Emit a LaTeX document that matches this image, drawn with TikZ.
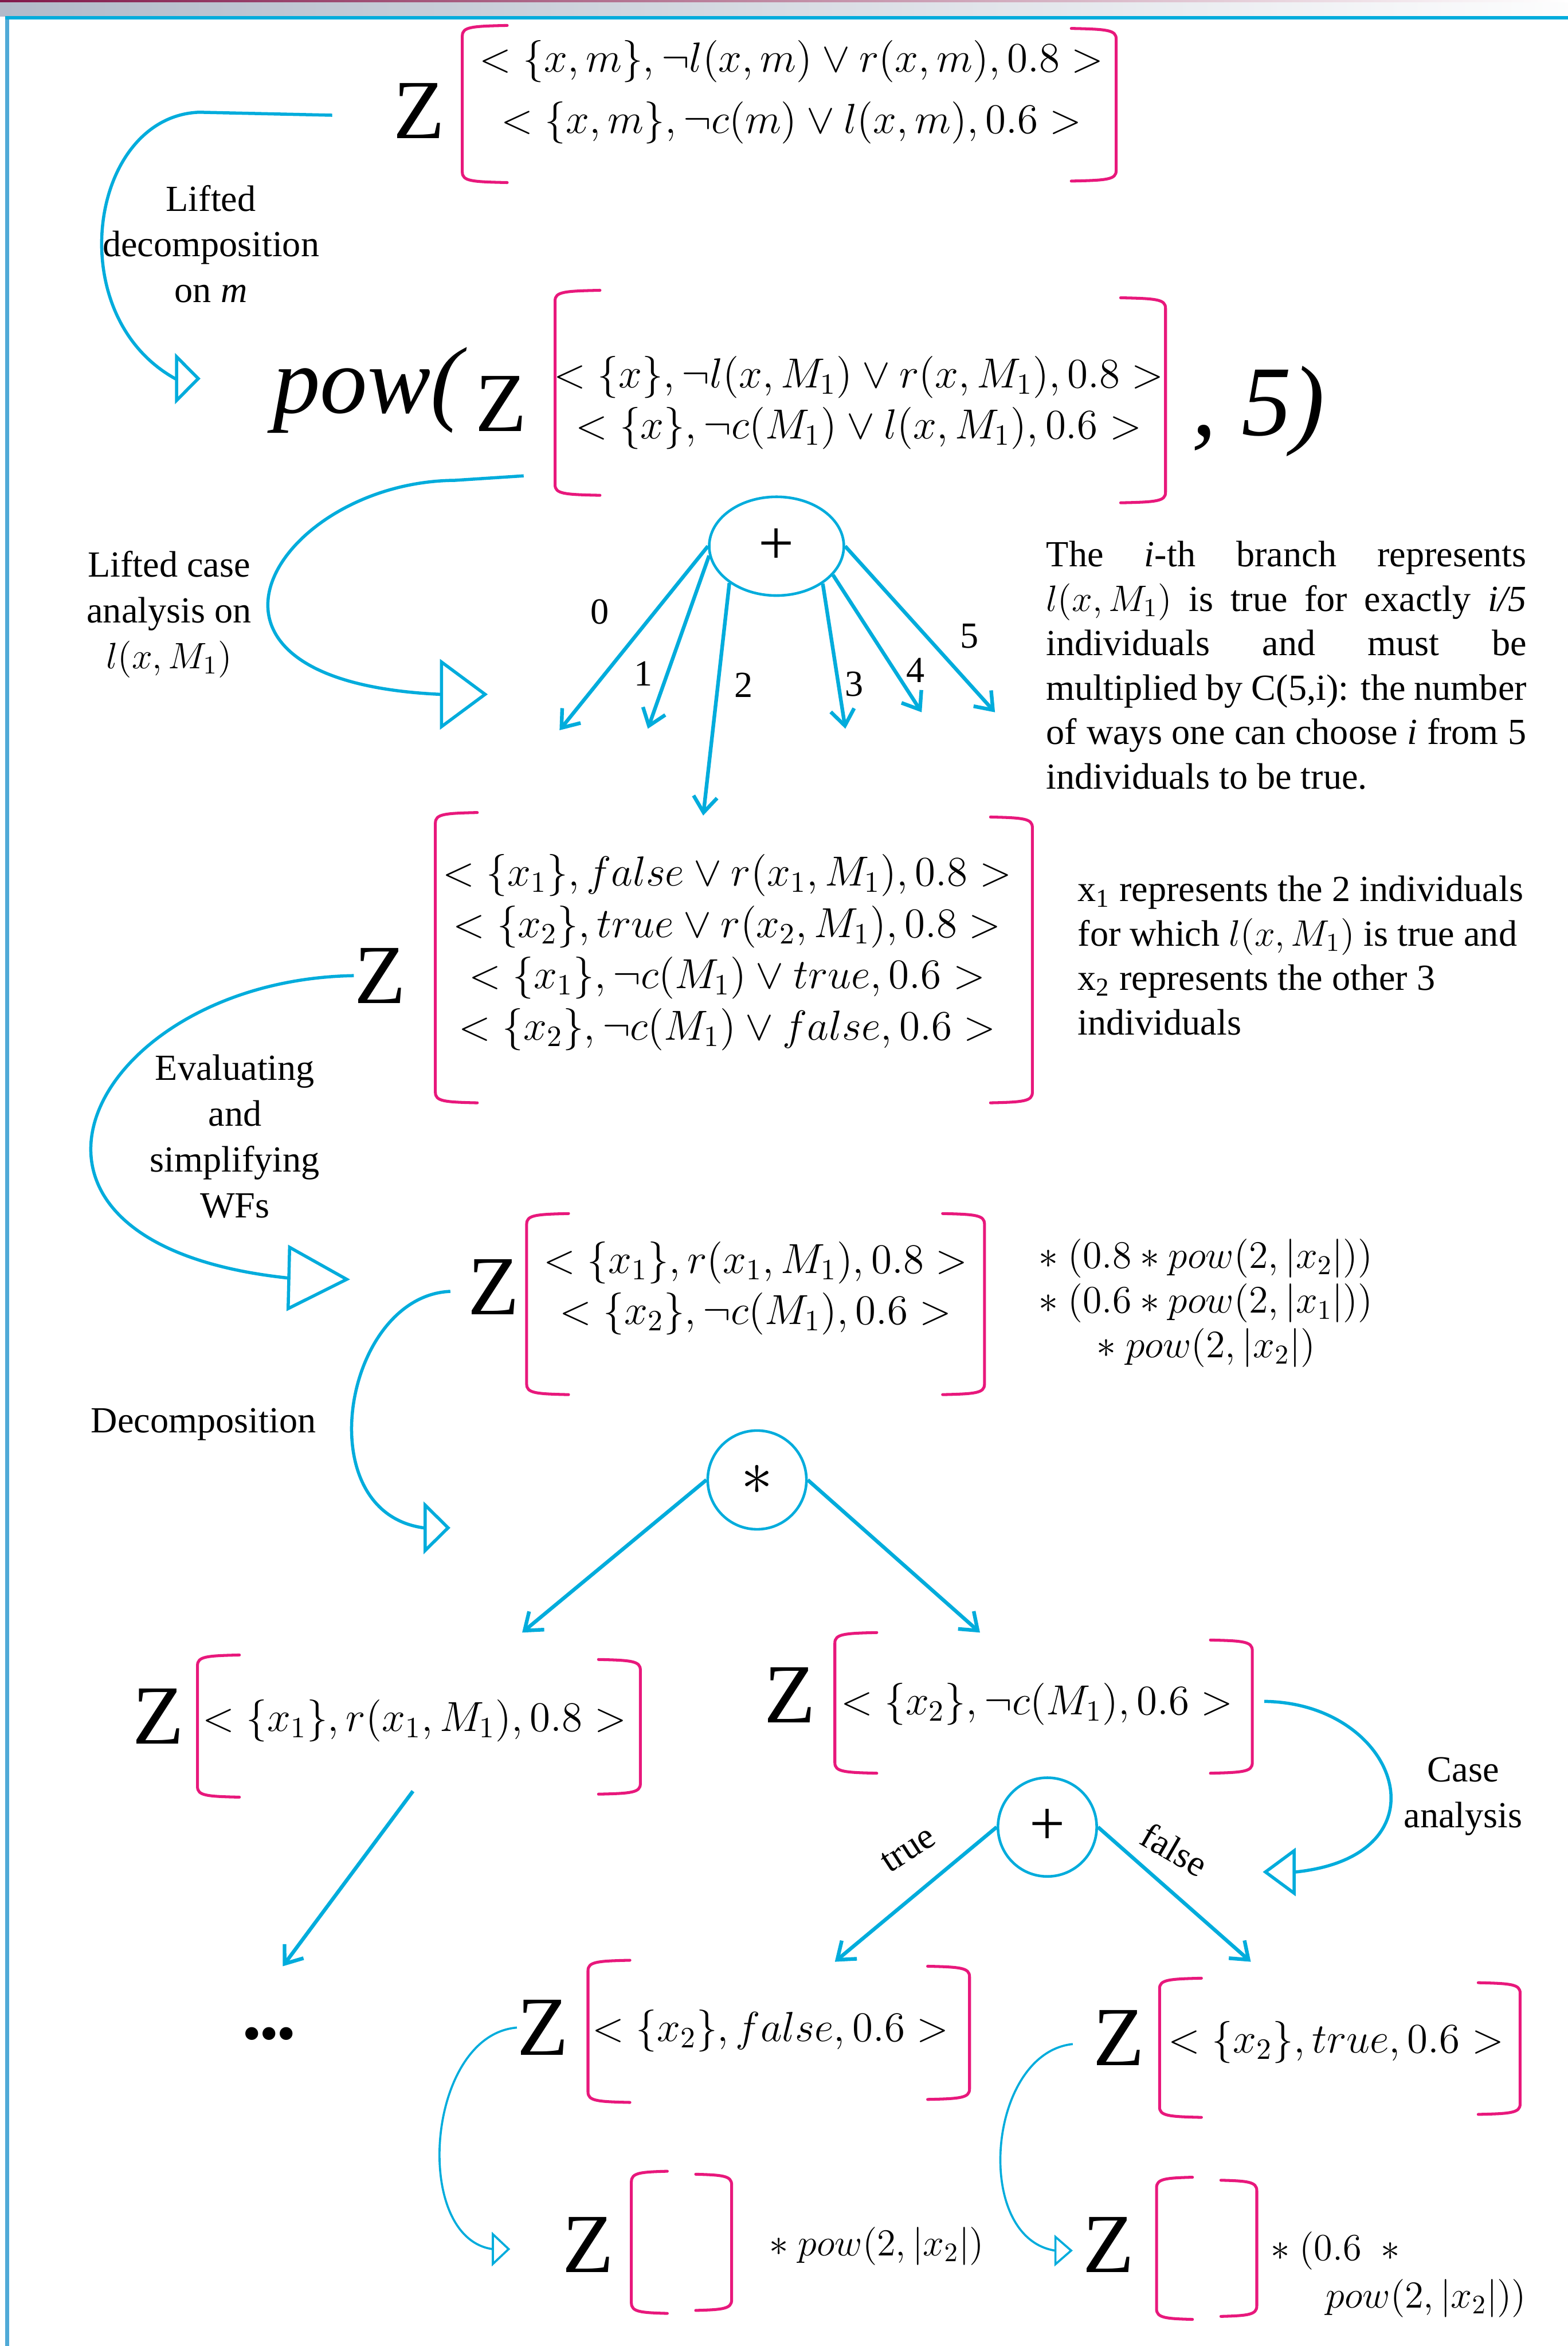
\RequirePackage{fix-cm}
\documentclass[tikz,border=0pt]{standalone}
\usepackage{fontspec}
\setmainfont{Liberation Serif}
\usetikzlibrary{arrows.meta,shapes.geometric}
\definecolor{cy}{RGB}{0,172,220}
\definecolor{mg}{RGB}{232,24,124}
\definecolor{hdr}{RGB}{178,186,201}
\definecolor{hdrtop}{RGB}{130,25,75}
\definecolor{sideline}{RGB}{80,170,215}
\newcommand\fbody{\fontsize{14}{16.9}\selectfont}
\newcommand\fbig{\fontsize{32}{36}\selectfont}
\newcommand\brL[4]{\draw[brk] (#1+#4,#2-2) .. controls (#1+6,#2-1.5) and (#1,#2-1) .. (#1,#2+5) -- (#1,#3-5) .. controls (#1,#3+1) and (#1+6,#3+1.5) .. (#1+#4,#3+2);}
\newcommand\brR[4]{\draw[brk] (#1-#4,#2-2) .. controls (#1-6,#2-1.5) and (#1,#2-1) .. (#1,#2+5) -- (#1,#3-5) .. controls (#1,#3+1) and (#1-6,#3+1.5) .. (#1-#4,#3+2);}
\tikzset{
  brk/.style={draw=mg, line width=1.1pt, line cap=round, line join=round},
  zz/.style={font=\fbig, inner sep=0pt},
  form/.style={align=center, inner sep=0pt},
  lab/.style={font=\fontsize{14}{17.4}\selectfont, align=center, inner sep=0pt},
  num/.style={font=\fbody, inner sep=0pt},
  opn/.style={ellipse, draw=cy, line width=1pt, inner sep=0pt, font=\fontsize{24}{26}\selectfont},
  branch/.style={draw=cy, line width=1.4pt, -{Straight Barb[length=6pt,width=9pt]}},
  carr/.style={draw=cy, line width=1.2pt},
}
\begin{document}
\begin{tikzpicture}[x=0.02cm, y=-0.02cm]
\useasboundingbox (0,0) rectangle (1048,1567.8);
\fill[white] (0,0) rectangle (1048,1567.8);
% header
\shade[left color=hdr, right color=white!97!hdr] (0,0) rectangle (1048,11);
\shade[left color=hdrtop, right color=white] (0,0) rectangle (1048,1.3);
\fill[cy] (3.5,10.8) rectangle (1048,13);
\fill[sideline] (3.5,13) rectangle (6,1567.8);

% ---------- N1
\node[zz] (z1) at (280,74) {Z};
\brL{309}{19}{120}{30} \brR{746}{21}{119}{30}
\node[form, font=\fontsize{16}{23.3}\selectfont] (f1) at (529,61.5)
  {$<\{x,m\},\neg l(x,m)\vee r(x,m),0.8>$\\ $<\{x,m\},\neg c(m)\vee l(x,m),0.6>$};
\node[lab] (lab1) at (141,163) {Lifted\\decomposition\\on \textit{m}};

% ---------- N2
\node[anchor=base west, inner sep=0pt, font=\fontsize{36}{40}\selectfont\itshape] (pw) at (182,276) {pow(};
\node[zz] (z2) at (335,270) {Z};
\brL{371}{196}{329}{30} \brR{779}{201}{334}{30}
\node[form, font=\fontsize{16}{19.4}\selectfont] (f2) at (574,269)
  {$<\{x\},\neg l(x,M_1)\vee r(x,M_1),0.8>$\\ $<\{x\},\neg c(M_1)\vee l(x,M_1),0.6>$};
\node[anchor=base west, inner sep=0pt, font=\fontsize{38}{40}\selectfont\itshape] (p5) at (796,291) {, 5)};
\node[lab] (lab2) at (113,410.5) {Lifted case\\analysis on\\$l(x,M_1)$};

% ---------- plus 1
\node[opn, minimum width=1.8cm, minimum height=1.32cm] (p1) at (519,365) {+};
\coordinate (b0) at (374,488);
\coordinate (b1) at (433,487);
\coordinate (b2) at (470,545);
\coordinate (b3) at (565,487);
\coordinate (b4) at (616,476);
\coordinate (b5) at (665,476);
\draw[branch] (p1.180) -- (b0);
\draw[branch] (p1.188) -- (b1);
\draw[branch] (p1.218) -- (b2);
\draw[branch] (p1.321) -- (b3);
\draw[branch] (p1.333) -- (b4);
\draw[branch] (p1.0) -- (b5);
\node[num] (n0) at (401,409) {0};
\node[num] (n1) at (430,450) {1};
\node[num] (n2) at (497,458) {2};
\node[num] (n3) at (571,457) {3};
\node[num] (n4) at (612,448) {4};
\node[num] (n5) at (648,425) {5};
\node[anchor=west, font=\fbody, text width=182.7pt, align=justify, inner sep=0pt] (para) at (699,444.5)
  {The \textit{i}-th branch represents\linebreak $l(x,M_1)$ is true for exactly \textit{i/5}\linebreak individuals and must be\linebreak multiplied by C(5,i): the number\linebreak of ways one can choose \textit{i} from 5\linebreak individuals to be true.};

% ---------- N3
\node[zz] (z3) at (254,652) {Z};
\brL{291}{545}{735}{28} \brR{690}{548}{735}{28}
\node[form, font=\fontsize{16}{19.5}\selectfont] (f3) at (486,636.5)
  {$<\{x_1\},false\vee r(x_1,M_1),0.8>$\\
   $<\{x_2\},true\vee r(x_2,M_1),0.8>$\\
   $<\{x_1\},\neg c(M_1)\vee true,0.6>$\\
   $<\{x_2\},\neg c(M_1)\vee false,0.6>$};
\node[anchor=west, font=\fbody, align=left, inner sep=0pt] (t3) at (720,638.5)
  {x\textsubscript{1} represents the 2 individuals\\for which $l(x,M_1)$ is true and\\x\textsubscript{2} represents the other 3\\individuals};
\node[lab] (lab3) at (157,759.5) {Evaluating\\and\\simplifying\\WFs};

% ---------- N4
\node[zz] (z4) at (330,860) {Z};
\brL{352}{813}{930}{28} \brR{658}{813}{930}{28}
\node[form, font=\fontsize{16}{19.3}\selectfont] (f4) at (505,861)
  {$<\{x_1\},r(x_1,M_1),0.8>$\\ $<\{x_2\},\neg c(M_1),0.6>$};
\node[form, font=\fontsize{14.8}{17}\selectfont] (t4) at (806,871)
  {$*\ (0.8*pow(2,|x_2|))$\\ $*\ (0.6*pow(2,|x_1|))$\\ $*\ pow(2,|x_2|)$};
\node[lab] (lab4) at (136,952) {Decomposition};

% ---------- star
\node[opn, minimum width=1.32cm, minimum height=1.32cm] (st) at (506,989) {$\ast$};
\coordinate (b6) at (349,1091);
\coordinate (b7) at (655,1091);
\draw[branch] (st.180) -- (b6);
\draw[branch] (st.0) -- (b7);

% ---------- N5
\node[zz] (z5) at (106,1147) {Z};
\brL{132}{1108}{1199}{28} \brR{428}{1111}{1197}{28}
\node[form, font=\fontsize{16}{19}\selectfont] (f5) at (277,1150) {$<\{x_1\},r(x_1,M_1),0.8>$};
\coordinate (c8) at (276,1197);
\node[inner sep=0pt, font=\fontsize{30}{32}\selectfont\bfseries] (dots) at (180,1359) {.\kern-1pt.\kern-1pt.};
\coordinate (b8) at (189,1314);
\draw[branch] (c8) -- (b8);

% ---------- N6
\node[zz] (z6) at (528,1133) {Z};
\brL{558}{1093}{1183}{28} \brR{837}{1098}{1183}{28}
\node[form, font=\fontsize{16}{19}\selectfont] (f6) at (693,1139) {$<\{x_2\},\neg c(M_1),0.6>$};
\node[lab] (lab5) at (978,1200.5) {Case\\analysis};

% ---------- plus 2
\node[opn, minimum width=1.32cm, minimum height=1.32cm] (p2) at (700,1221) {+};
\coordinate (b9) at (558,1311);
\coordinate (b10) at (836,1311);
\draw[branch] (p2.180) -- (b9);
\draw[branch] (p2.0) -- (b10);
\node[num, rotate=33] (ltrue) at (607,1236) {true};
\node[num, rotate=-30] (lfalse) at (785,1236) {false};

% ---------- N7
\node[zz] (z7) at (363,1355) {Z};
\brL{393}{1312}{1403}{28} \brR{648}{1316}{1401}{28}
\node[form, font=\fontsize{16}{19}\selectfont] (f7) at (515,1357) {$<\{x_2\},false,0.6>$};

% ---------- N8
\node[zz] (z8) at (748,1362) {Z};
\brL{775}{1324}{1413}{28} \brR{1016}{1327}{1411}{28}
\node[form, font=\fontsize{16}{19}\selectfont] (f8) at (893,1365) {$<\{x_2\},true,0.6>$};

% ---------- N9
\node[zz] (z9) at (393,1500) {Z};
\brL{422}{1453}{1544}{24} \brR{489}{1455}{1542}{24}
\node[form, font=\fontsize{14.5}{17}\selectfont] (t9) at (586,1501) {$*\ pow(2,|x_2|)$};

% ---------- N10
\node[zz] (z10) at (741,1500) {Z};
\brL{773}{1457}{1548}{24} \brR{840}{1459}{1546}{24}
\node[anchor=west, align=left, inner sep=0pt, font=\fontsize{14.5}{18.2}\selectfont] (t10) at (849,1520)
  {$*\ (0.6\ \ *$\\ \hspace*{21pt}$pow(2,|x_2|))$};

% ---------- curved connectors
\coordinate (s1) at (222,77);
\coordinate (e1) at (134,253);
\draw[carr, -{Triangle[open,length=9.7pt,width=19.3pt]}] (s1) -- (133,75) .. controls (60,78) and (40,210) .. (117,253) -- (e1);

\coordinate (s2) at (350,318);
\coordinate (e2) at (326,464);
\draw[carr, -{Triangle[open,length=18.2pt,width=26.7pt]}] (s2) -- (304,321) .. controls (185,322) and (100,455) .. (294,464) -- (e2);

\coordinate (e3) at (234,855);
\draw[carr, -{Triangle[open,length=23.9pt,width=25pt]}] (z3.west) .. controls (60,655) and (-30,830) .. (192,854) -- (e3);

\coordinate (s4) at (301,863);
\coordinate (e4) at (301,1021);
\draw[carr, -{Triangle[open,length=10.2pt,width=19.9pt]}] (s4) .. controls (230,866) and (205,1010) .. (283,1021) -- (e4);

\coordinate (s5) at (845,1137);
\coordinate (e5) at (844,1251);
\draw[carr, -{Triangle[open,length=12.5pt,width=18.2pt]}] (s5) .. controls (935,1138) and (970,1240) .. (866,1251) -- (e5);

\coordinate (e6) at (341,1503);
\draw[carr, line width=0.8pt, -{Triangle[open,length=7pt,width=13pt]}] (z7.west) .. controls (285,1360) and (275,1495) .. (329,1503) -- (e6);

\coordinate (s7) at (717,1366);
\coordinate (e7) at (717,1504);
\draw[carr, line width=0.8pt, -{Triangle[open,length=7pt,width=12pt]}] (s7) .. controls (660,1372) and (650,1495) .. (705,1504) -- (e7);
\end{tikzpicture}
\end{document}
